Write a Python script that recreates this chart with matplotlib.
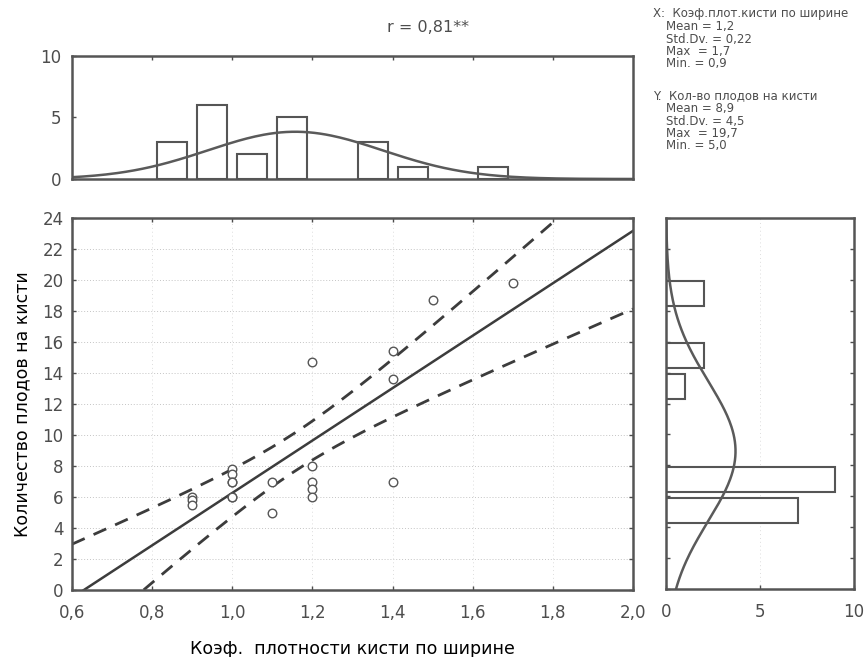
import matplotlib
matplotlib.use("Agg")
import matplotlib.pyplot as plt
import numpy as np
from matplotlib.ticker import FuncFormatter

# scatter data: density coefficient (x) vs fruits per cluster (y)
x_vals = [0.9, 0.9, 0.9,
          1.0, 1.0, 1.0, 1.0, 1.0, 1.0,
          1.1, 1.1,
          1.2, 1.2, 1.2, 1.2, 1.2,
          1.4, 1.4, 1.4,
          1.5, 1.7]
y_vals = [6.0, 5.8, 5.5,
          7.8, 7.5, 7.0, 7.0, 6.0, 6.0,
          7.0, 5.0,
          14.7, 8.0, 7.0, 6.5, 6.0,
          15.4, 13.6, 7.0,
          18.7, 19.8]

# marginal histograms (bin edges and counts)
x_bin_lo = [0.8, 0.9, 1.0, 1.1, 1.3, 1.4, 1.6]
x_bin_hi = [0.9, 1.0, 1.1, 1.2, 1.4, 1.5, 1.7]
x_counts = [3, 6, 2, 5, 3, 1, 1]
y_bin_lo = [4, 6, 12, 14, 18]
y_bin_hi = [6, 8, 14, 16, 20]
y_counts = [7, 9, 1, 2, 2]
x_binw, y_binw = 0.1, 2.0

r_text = "r = 0,81**"
stats_x = ["X:  Коэф.плот.кисти по ширине", "Mean = 1,2", "Std.Dv. = 0,22",
           "Max  = 1,7", "Min. = 0,9"]
stats_y = ["Y.  Кол-во плодов на кисти", "Mean = 8,9", "Std.Dv. = 4,5",
           "Max  = 19,7", "Min. = 5,0"]

INK = "#4d4d4d"
GRID = "#c4c4c4"
W, H = 865, 657

plt.rcParams.update({
    "font.family": ["DejaVu Sans"],
    "font.size": 12, "text.color": INK, "xtick.color": INK,
    "ytick.color": INK, "axes.edgecolor": "#555555", "axes.linewidth": 1.8,
})


def box(l, t, r, b):
    return [l / W, 1 - b / H, (r - l) / W, (b - t) / H]


comma = FuncFormatter(lambda v, _: f"{v:.1f}".replace(".", ","))

fig = plt.figure(figsize=(W / 100, H / 100), dpi=100)
ax = fig.add_axes(box(72, 218, 633, 590))
axt = fig.add_axes(box(72, 56, 633, 179))
axr = fig.add_axes(box(666, 218, 854, 589))

xs = np.array(x_vals)
ys = np.array(y_vals)
n = len(xs)

# regression line with 95% confidence band
slope, icpt = np.polyfit(xs, ys, 1)
xx = np.linspace(0.6, 2.0, 200)
fit = slope * xx + icpt
resid = ys - (slope * xs + icpt)
s = np.sqrt(np.sum(resid ** 2) / (n - 2))
sxx = np.sum((xs - xs.mean()) ** 2)
band = 2.093 * s * np.sqrt(1 / n + (xx - xs.mean()) ** 2 / sxx)

for v in np.arange(2, 24, 2):
    ax.axhline(v, color=GRID, lw=0.7, ls=(0, (1, 2)), zorder=0)
for v in np.arange(0.8, 2.0, 0.2):
    ax.axvline(v, color="#dddddd", lw=0.7, ls=(0, (1, 3)), zorder=0)
ax.plot(xx, fit, color="#3c3c3c", lw=1.8, zorder=2)
ax.plot(xx, fit + band, color="#3c3c3c", lw=2.0, ls=(0, (5, 3.5)), zorder=2)
ax.plot(xx, fit - band, color="#3c3c3c", lw=2.0, ls=(0, (5, 3.5)), zorder=2)
ax.scatter(xs, ys, s=38, facecolor="white", edgecolor="#555555", lw=1.0, zorder=3)
ax.set_xlim(0.6, 2.0)
ax.set_ylim(0, 24)
ax.set_xticks(np.arange(0.6, 2.01, 0.2))
ax.set_yticks(np.arange(0, 25, 2))
ax.xaxis.set_major_formatter(comma)
ax.tick_params(direction="in", length=3, width=1, top=True, right=True, labelsize=12)
ax.tick_params(axis="x", pad=10)
ax.tick_params(axis="y", pad=6)
ax.set_ylabel("Количество плодов на кисти", fontsize=12.5)
ax.set_xlabel("Коэф.  плотности кисти по ширине", fontsize=12.5)
ax.yaxis.set_label_coords(-0.073, 0.5)
ax.xaxis.set_label_coords(0.5, -0.135)

# top histogram of x
lo = np.array(x_bin_lo)
hi = np.array(x_bin_hi)
axt.bar(lo + 0.0125, x_counts, width=(hi - lo) - 0.025, align="edge",
        facecolor="white", edgecolor="#555555", lw=1.5)
gx = np.linspace(0.6, 2.0, 200)
sx = xs.std(ddof=1)
axt.plot(gx, n * x_binw * np.exp(-0.5 * ((gx - xs.mean()) / sx) ** 2) / (sx * np.sqrt(2 * np.pi)),
         color="#5a5a5a", lw=1.8)
axt.set_xlim(0.6, 2.0)
axt.set_ylim(0, 10)
axt.set_yticks([0, 5, 10])
axt.set_xticks(np.arange(0.8, 1.81, 0.2))
axt.tick_params(direction="in", length=3, width=1, top=True, bottom=False,
                labelbottom=False, pad=8, labelsize=12)

# right histogram of y
lo = np.array(y_bin_lo)
hi = np.array(y_bin_hi)
axr.barh(lo + 0.3, y_counts, height=(hi - lo) - 0.4, align="edge",
         facecolor="white", edgecolor="#555555", lw=1.5)
gy = np.linspace(0, 24, 200)
sy = ys.std(ddof=1)
axr.plot(n * y_binw * np.exp(-0.5 * ((gy - ys.mean()) / sy) ** 2) / (sy * np.sqrt(2 * np.pi)), gy,
         color="#5a5a5a", lw=1.8)
axr.axvline(5, color="#dddddd", lw=0.7, ls=(0, (1, 3)), zorder=0)
axr.set_xlim(0, 10)
axr.set_ylim(0, 24)
axr.set_xticks([0, 5, 10])
axr.set_yticks(np.arange(0, 25, 2))
axr.tick_params(direction="in", length=3, width=1, right=True, labelleft=False,
                pad=10, labelsize=12)

fig.text(428 / W, 1 - 27 / H, r_text, ha="center", va="center", fontsize=11.5)
for i, line in enumerate(stats_x):
    fig.text((653 if i == 0 else 666) / W, 1 - (14 + i * 12.5) / H, line,
             ha="left", va="center", fontsize=8.5)
for i, line in enumerate(stats_y):
    fig.text((653 if i == 0 else 666) / W, 1 - (96 + i * 12.5) / H, line,
             ha="left", va="center", fontsize=8.5)

fig.savefig("out.png", dpi=100, facecolor="white")
